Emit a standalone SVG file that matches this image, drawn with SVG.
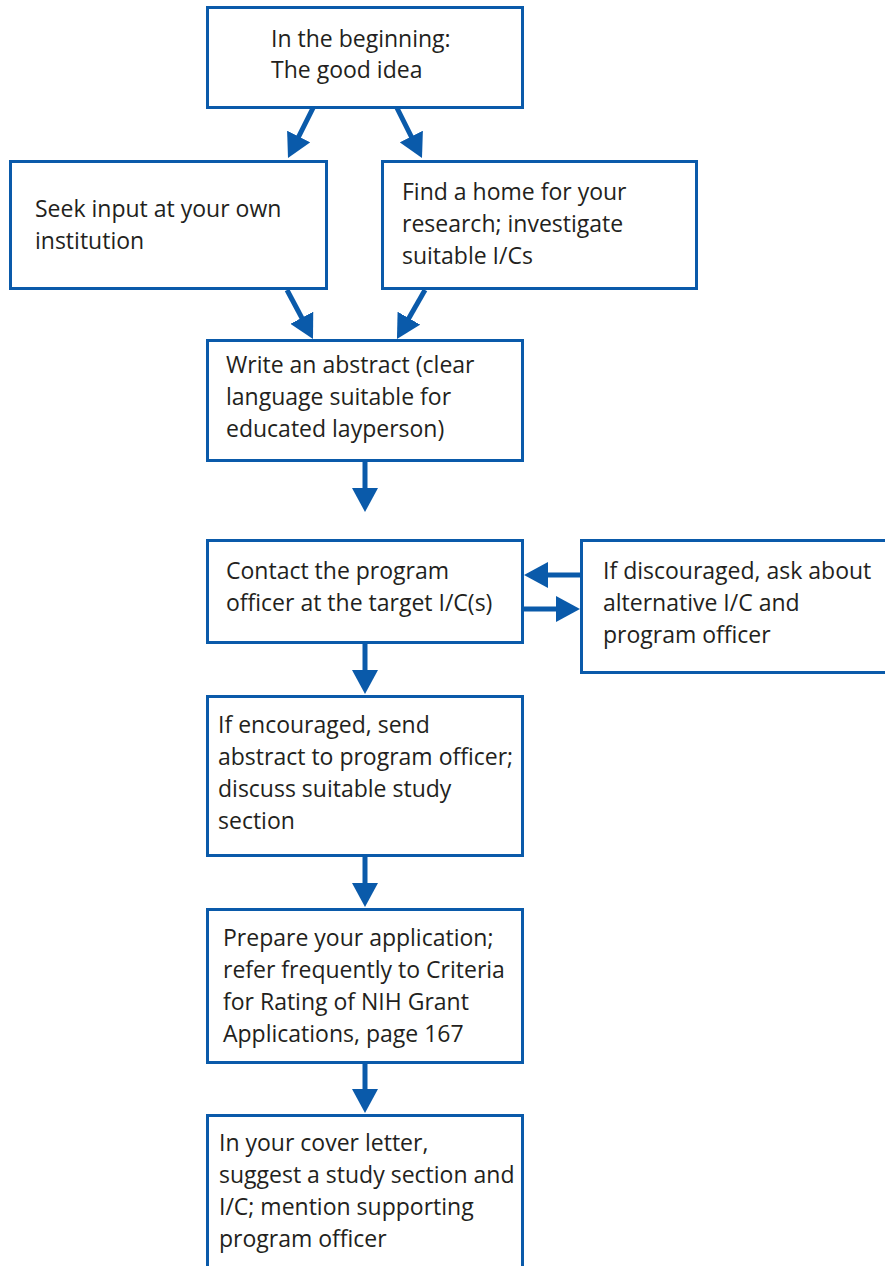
<svg xmlns="http://www.w3.org/2000/svg" width="885" height="1266" viewBox="0 0 885 1266">
<style>
.box{fill:#fff;stroke:#0a5aaa;stroke-width:3}
.t{font-family:"Open Sans",Lato,sans-serif;font-size:23px;fill:#231f20}
.ln{stroke:#0a5aaa;stroke-width:5;fill:none}
</style>
<defs>
<marker id="ah" markerWidth="4.8" markerHeight="5.2" refX="1" refY="2.6" orient="auto" markerUnits="strokeWidth">
<path d="M0,0 L4.8,2.6 L0,5.2 Z" fill="#0a5aaa"/>
</marker>
</defs>
<rect width="885" height="1266" fill="#fff"/>
<g id="connectors">
<line class="ln" x1="313" y1="108" x2="296.5" y2="141" marker-end="url(#ah)"/>
<line class="ln" x1="397" y1="108" x2="413.5" y2="141" marker-end="url(#ah)"/>
<line class="ln" x1="287" y1="290" x2="304.1" y2="322.2" marker-end="url(#ah)"/>
<line class="ln" x1="425" y1="290" x2="406.4" y2="322.5" marker-end="url(#ah)"/>
<line class="ln" x1="365" y1="461" x2="365" y2="493" marker-end="url(#ah)"/>
<line class="ln" x1="365" y1="643" x2="365" y2="675" marker-end="url(#ah)"/>
<line class="ln" x1="365" y1="857" x2="365" y2="888" marker-end="url(#ah)"/>
<line class="ln" x1="365" y1="1063" x2="365" y2="1094" marker-end="url(#ah)"/>
<line class="ln" x1="581" y1="575" x2="543" y2="575" marker-end="url(#ah)"/>
<line class="ln" x1="523" y1="609" x2="561" y2="609" marker-end="url(#ah)"/>
</g>
<g id="n1"><rect class="box" x="207.5" y="7.5" width="315" height="100"/>
<text class="t" x="271" y="47">In the beginning:</text><text class="t" x="271" y="78">The good idea</text></g>
<g id="n2"><rect class="box" x="10.5" y="161.5" width="316" height="127"/>
<text class="t" x="35" y="217">Seek input at your own</text><text class="t" x="35" y="249">institution</text></g>
<g id="n3"><rect class="box" x="382.5" y="161.5" width="314" height="127"/>
<text class="t" x="402" y="200">Find a home for your</text><text class="t" x="402" y="232">research; investigate</text><text class="t" x="402" y="264">suitable I/Cs</text></g>
<g id="n4"><rect class="box" x="207.5" y="340.5" width="315" height="120"/>
<text class="t" x="226" y="373">Write an abstract (clear</text><text class="t" x="226" y="405">language suitable for</text><text class="t" x="226" y="437">educated layperson)</text></g>
<g id="n5"><rect class="box" x="207.5" y="540.5" width="315" height="102"/>
<text class="t" x="226" y="579">Contact the program</text><text class="t" x="226" y="611">officer at the target I/C(s)</text></g>
<g id="n6"><rect class="box" x="581.5" y="540.5" width="306" height="132"/>
<text class="t" x="603" y="579">If discouraged, ask about</text><text class="t" x="603" y="611">alternative I/C and</text><text class="t" x="603" y="643">program officer</text></g>
<g id="n7"><rect class="box" x="207.5" y="696.5" width="315" height="159"/>
<text class="t" x="218" y="733">If encouraged, send</text><text class="t" x="218" y="765">abstract to program officer;</text><text class="t" x="218" y="797">discuss suitable study</text><text class="t" x="218" y="829">section</text></g>
<g id="n8"><rect class="box" x="207.5" y="909.5" width="315" height="153"/>
<text class="t" x="223" y="946">Prepare your application;</text><text class="t" x="223" y="978">refer frequently to Criteria</text><text class="t" x="223" y="1010">for Rating of NIH Grant</text><text class="t" x="223" y="1042">Applications, page 167</text></g>
<g id="n9"><rect class="box" x="207.5" y="1115.5" width="315" height="160"/>
<text class="t" x="219" y="1151">In your cover letter,</text><text class="t" x="219" y="1183">suggest a study section and</text><text class="t" x="219" y="1215">I/C; mention supporting</text><text class="t" x="219" y="1247">program officer</text></g>
</svg>
